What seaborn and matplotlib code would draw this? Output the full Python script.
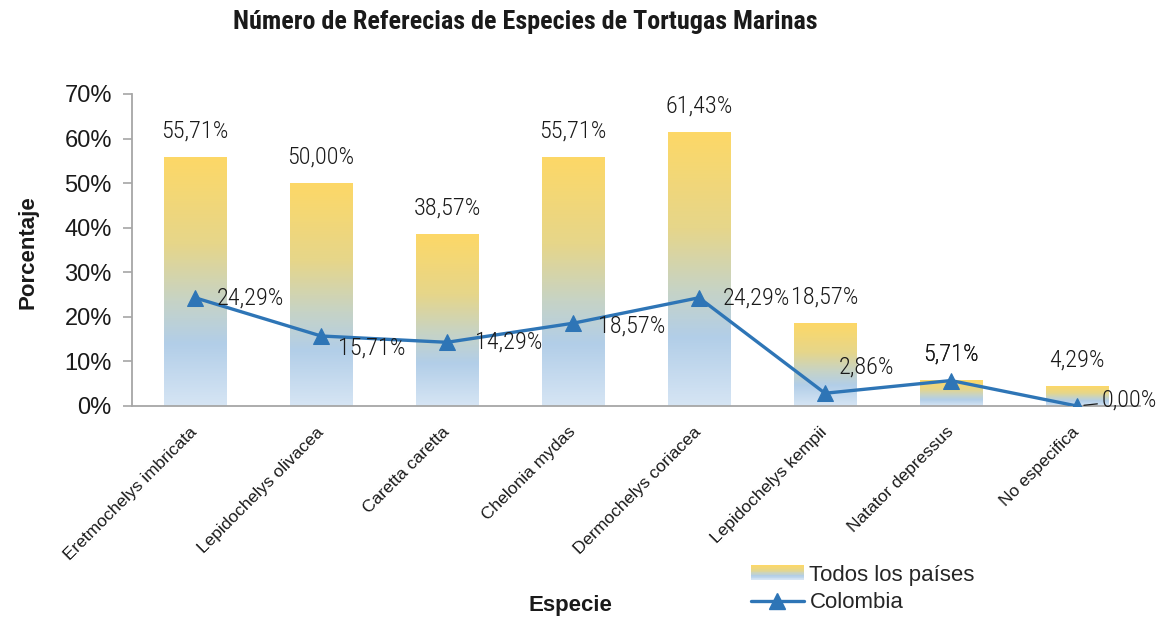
import numpy as np
import matplotlib
matplotlib.use("Agg")
import matplotlib.pyplot as plt
import seaborn as sns
from matplotlib import font_manager
from matplotlib.colors import LinearSegmentedColormap
from matplotlib.legend_handler import HandlerBase
from matplotlib.patches import Rectangle, Patch
from matplotlib.lines import Line2D

species = ["Eretmochelys imbricata", "Lepidochelys olivacea", "Caretta caretta",
           "Chelonia mydas", "Dermochelys coriacea", "Lepidochelys kempii",
           "Natator depressus", "No especifica"]
todos = [55.71, 50.00, 38.57, 55.71, 61.43, 18.57, 5.71, 4.29]
colombia = [24.29, 15.71, 14.29, 18.57, 24.29, 2.86, 5.71, 0.00]
yticks = [0, 10, 20, 30, 40, 50, 60, 70]

names = {f.name for f in font_manager.fontManager.ttflist}
REG = "Liberation Sans" if "Liberation Sans" in names else "DejaVu Sans"
NARROW = "Roboto Condensed" if "Roboto Condensed" in names else REG

sns.set_theme(style="white")
plt.rcParams['font.family'] = [REG, 'DejaVu Sans']

LINE_C = "#2E75B6"
TXT_C = "#1a1a1a"
cmap = LinearSegmentedColormap.from_list(
    "grad", [(0, "#FDD867"), (0.35, "#E6D68A"), (0.58, "#C6D3C6"),
             (0.75, "#B2CEE8"), (1, "#D6E5F4")])

fig = plt.figure(figsize=(11.71, 6.18), dpi=100)
ax = fig.add_axes([132/1171, 1-406/618, (1140-132)/1171, (406-94)/618])

sns.barplot(x=species, y=todos, ax=ax, width=0.5, color="white", saturation=1)
grad = cmap(np.linspace(0, 1, 256))[:, None, :3]
for p in list(ax.patches):
    x0, y0 = p.get_x(), p.get_y()
    w, h = p.get_width(), p.get_height()
    ax.imshow(grad, extent=[x0, x0 + w, y0, y0 + h], aspect="auto",
              origin="upper", zorder=1, interpolation="bilinear")
    p.set_visible(False)

sns.lineplot(x=species, y=colombia, ax=ax, sort=False, color=LINE_C,
             linewidth=2.4, marker="^", markersize=11, markeredgecolor=LINE_C,
             zorder=3)

ax.set_xlim(-0.5, len(species) - 0.5)
ax.set_ylim(0, 70)
ax.set_yticks(yticks)
ax.set_yticklabels([f"{t}%" for t in yticks])
ax.set_xlabel("")
ax.set_ylabel("")

for s in ["top", "right"]:
    ax.spines[s].set_visible(False)
for s in ["left", "bottom"]:
    ax.spines[s].set_color("#A6A6A6")
    ax.spines[s].set_linewidth(1.3)
ax.tick_params(axis="y", which="major", left=True, length=6.5, width=1.2,
               color="#A6A6A6", pad=8, labelsize=17, labelcolor=TXT_C)
ax.tick_params(axis="x", bottom=False, pad=11, labelsize=12.5, labelcolor=TXT_C)
for lab in ax.get_xticklabels():
    lab.set_rotation(45)
    lab.set_ha("right")
    lab.set_va("center")
    lab.set_rotation_mode("anchor")

def fmt(v):
    return f"{v:.2f}%".replace(".", ",")

lab_kw = dict(fontsize=17.5, family=[NARROW, REG], fontweight="light", color=TXT_C,
              textcoords="offset points", zorder=5)
for i, v in enumerate(todos):
    ax.annotate(fmt(v), (i, v), xytext=(0, 19), ha="center", va="center", **lab_kw)

offs = [(16, 0, "left"), (12, -9, "left"), (20, 0, "left"), (18, -2, "left"),
        (17, 0, "left"), (10, 19, "left"), (0, 19, "center")]
for i, (dx, dy, ha) in enumerate(offs):
    ax.annotate(fmt(colombia[i]), (i, colombia[i]), xytext=(dx, dy),
                ha=ha, va="center", **lab_kw)
ax.annotate(fmt(colombia[7]), (7, colombia[7]), xytext=(18, 4), ha="left",
            va="center", annotation_clip=False,
            arrowprops=dict(arrowstyle="-", color=TXT_C, lw=0.9,
                            shrinkA=1, shrinkB=5), **lab_kw)


class HandlerGradient(HandlerBase):
    def create_artists(self, legend, orig_handle, xdescent, ydescent,
                       width, height, fontsize, trans):
        n = 20
        arts = []
        for k in range(n):
            frac = k / (n - 1)
            r = Rectangle((-xdescent, -ydescent + height * (1 - (k + 1) / n)),
                          width, height / n + 0.3, facecolor=cmap(frac),
                          edgecolor="none", transform=trans)
            arts.append(r)
        return arts


grad_handle = Patch(facecolor="#FDD867")
line_handle = Line2D([], [], color=LINE_C, lw=2.4, marker="^", markersize=11)
fig.legend([grad_handle, line_handle], ["Todos los países", "Colombia"],
           handler_map={Patch: HandlerGradient()},
           loc="upper left", bbox_to_anchor=(735/1171, 1-549/618),
           frameon=False, fontsize=16, handlelength=2.4, handletextpad=0.25,
           labelspacing=0.3, borderpad=0.2, handleheight=0.65)

fig.text(525/1171, 1-22/618, "Número de Referecias de Especies de Tortugas Marinas",
         ha="center", va="center", fontsize=18.8, fontweight="bold",
         family=[NARROW, REG], color=TXT_C)
fig.text(570/1171, 1-605/618, "Especie", ha="center", va="center",
         fontsize=16, fontweight="bold", color=TXT_C)
fig.text(28/1171, 1-252/618, "Porcentaje", ha="center", va="center",
         rotation=90, fontsize=16, fontweight="bold", color=TXT_C)

fig.savefig("out.png", dpi=100)
